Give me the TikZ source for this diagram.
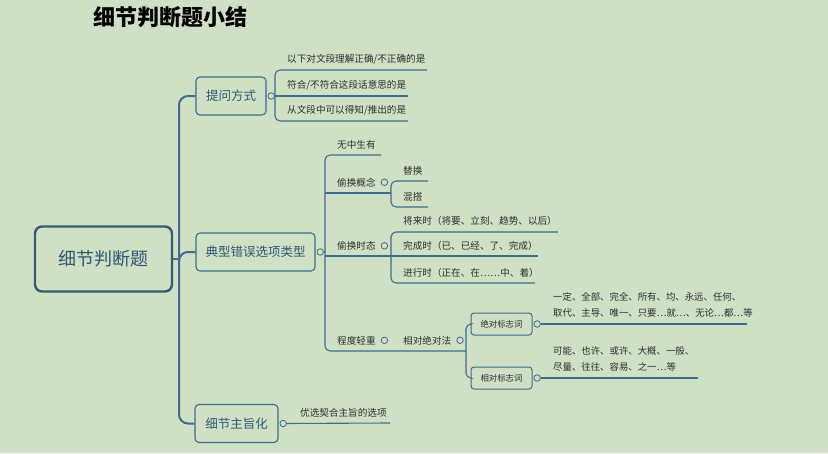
\documentclass[tikz,border=0pt]{standalone}
\usepackage{fontspec}
\setmainfont{Noto Sans CJK SC}
\usetikzlibrary{positioning}

\definecolor{bg}{RGB}{207,224,197}
\definecolor{ln}{RGB}{62,108,140}
\definecolor{bx}{RGB}{44,88,118}
\definecolor{tx}{RGB}{45,45,45}

\begin{document}
\begin{tikzpicture}[x=1pt,y=-1pt,
	rootbox/.style={draw=ln!85!black, line width=2.4pt, rounded corners=7pt, minimum width=137pt, minimum height=65pt, text=bx, font=\fontsize{18}{20}\selectfont},
	topic/.style={draw=ln, line width=1.1pt, rounded corners=4pt, minimum height=38pt, text=bx, font=\fontsize{12.5}{14}\selectfont},
	tag/.style={draw=ln, line width=1pt, rounded corners=3pt, minimum width=61pt, minimum height=22pt, text=tx, font=\fontsize{8.4}{10}\selectfont},
	knob/.style={circle, draw=ln, fill=bg, line width=0.8pt, inner sep=0pt, minimum size=6.5pt},
	leaf/.style={anchor=base west, inner sep=0pt, text=tx, font=\fontsize{9.6}{11}\selectfont},
	note/.style={anchor=south west, inner sep=0pt, align=left, text=tx, font=\fontsize{9.4}{16.5}\selectfont},
	stem/.style={draw=ln, line width=2pt, rounded corners=9pt},
	twig/.style={draw=ln, line width=1.1pt, rounded corners=5pt}]
	\fill[bg] (0,0) rectangle (828,453);
	\useasboundingbox (0,0) rectangle (828,453);
	\node[font=\fontsize{22}{24}\selectfont\bfseries] (title) at (170,17) {细节判断题小结};

	\node[rootbox] (root) at (103.5,259) {细节判断题};
	\node[topic, minimum width=70pt] (tw) at (231,96) {提问方式};
	\node[topic, minimum width=119pt] (dx) at (255.5,252) {典型错误选项类型};
	\node[topic, minimum width=83pt] (zz) at (236.5,423.5) {细节主旨化};
	\node[knob, right=1pt of tw] (twk) {};
	\node[knob, right=1pt of dx] (dxk) {};
	\node[knob, right=1pt of zz] (zzk) {};

	\coordinate (sp) at (179,259);
	\draw[stem, rounded corners=0] (root.east) -- (sp);
	\draw[stem] (sp) |- (tw.west);
	\draw[stem] (sp) |- (dx.west);
	\draw[stem] (sp) |- (zz.west);

	% 提问方式
	\coordinate (twb) at (275,96);
	\coordinate (q1e) at (427,70);
	\coordinate (q2e) at (408,96);
	\coordinate (q3e) at (408,121);
	\draw[twig] (q1e) -| (twb) |- (q3e);
	\draw[twig] (twk) -- (q2e);
	\node[leaf] (q1) at (287,62.5) {以下对文段理解正确/不正确的是};
	\node[leaf] (q2) at (287,88) {符合/不符合这段话意思的是};
	\node[leaf] (q3) at (287,113.5) {从文段中可以得知/推出的是};

	% 典型错误选项类型
	\coordinate (sp2) at (325,252);
	\coordinate (a1e) at (381,155);
	\coordinate (rel) at (466,351);
	\draw[twig] (dxk) -- (sp2);
	\draw[twig] (a1e) -| (sp2) |- (rel);
	\node[leaf] (a1) at (337,148.5) {无中生有};

	\coordinate (k2) at (391,193);
	\coordinate (b1e) at (428,181);
	\coordinate (b2e) at (428,207);
	\draw[twig] (k2 -| sp2) -- (k2);
	\draw[twig] (b1e) -| (k2) |- (b2e);
	\node[leaf] (a2) at (337,186) {偷换概念};
	\node[knob, right=5pt of a2] (a2k) {};
	\node[leaf] (b1) at (403,174) {替换};
	\node[leaf] (b2) at (403,200) {混搭};

	\coordinate (k3) at (391,256);
	\coordinate (c1e) at (558,232);
	\coordinate (c2e) at (538,256);
	\coordinate (c3e) at (535,283);
	\draw[twig] (k3 -| sp2) -- (c2e);
	\draw[twig] (c1e) -| (k3) |- (c3e);
	\node[leaf] (a3) at (337,249.5) {偷换时态};
	\node[knob, right=5pt of a3] (a3k) {};
	\node[leaf] (c1) at (403,224.5) {将来时（将要、立刻、趋势、以后）};
	\node[leaf] (c2) at (403,249.5) {完成时（已、已经、了、完成）};
	\node[leaf] (c3) at (403,276) {进行时（正在、在……中、着）};

	\node[leaf] (a4) at (337,344) {程度轻重};
	\node[knob, right=5pt of a4] (a4k) {};
	\node[leaf] (a5) at (403,344) {相对绝对法};
	\node[knob, right=5pt of a5] (a5k) {};
	\node[tag] (bj) at (501.5,324) {绝对标志词};
	\node[tag] (xd) at (501.5,378) {相对标志词};
	\node[knob, right=1pt of bj] (bjk) {};
	\node[knob, right=1pt of xd] (xdk) {};
	\draw[twig] (bj.west) -| (rel) |- (xd.west);
	\coordinate (d1e) at (747,324);
	\coordinate (d2e) at (698,378);
	\draw[twig] (bjk) -- (d1e);
	\draw[twig] (xdk) -- (d2e);
	\node[note] (d1) at (553,317.5) {一定、全部、完全、所有、均、永远、任何、\\取代、主导、唯一、只要…就…、无论…都…等};
	\node[note] (d2) at (553,371.5) {可能、也许、或许、大概、一般、\\尽量、往往、容易、之一…等};

	% 细节主旨化
	\coordinate (e1e) at (390,423);
	\draw[twig] (zzk) -- (e1e);
	\node[leaf] (e1) at (300,416.5) {优选契合主旨的选项};
\end{tikzpicture}
\end{document}
